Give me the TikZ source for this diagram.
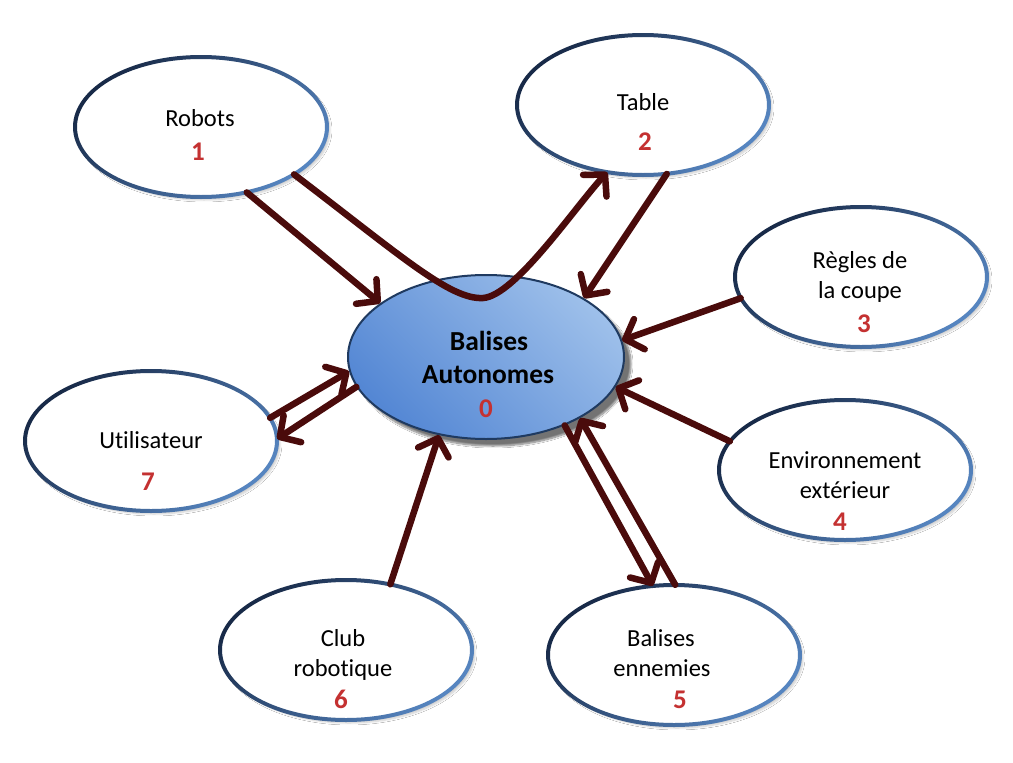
\documentclass[tikz,border=0pt]{standalone}
\usepackage{fontspec}
\setmainfont{Carlito}[Ligatures={NoCommon}]
\usetikzlibrary{shapes.geometric,arrows.meta,shadows.blur}
\definecolor{arr}{HTML}{4A0B0B}
\definecolor{numred}{HTML}{C43131}
\definecolor{edgeDark}{HTML}{182A48}
\definecolor{edgeLight}{HTML}{5685C0}
\definecolor{ctrDark}{HTML}{5487D4}
\definecolor{ctrLight}{HTML}{9DBFEA}
\definecolor{ctrEdge}{HTML}{1F3A60}
\newcommand\bubbleedge[1]{\shade[even odd rule, top color=edgeDark, bottom color=edgeLight, shading angle=45] (#1.center) ellipse [x radius=128, y radius=72] (#1.center) ellipse [x radius=124, y radius=68];}
\begin{document}
\begin{tikzpicture}[x=1pt,y=-1pt,
  bubble/.style={ellipse, minimum width=252pt, minimum height=140pt, inner sep=0pt, fill=white,
    blur shadow={shadow xshift=3pt, shadow yshift=-3pt, shadow opacity=20, shadow blur steps=6}},
  core/.style={ellipse, minimum width=276pt, minimum height=164pt, inner sep=0pt, draw=ctrEdge, line width=2pt,
    top color=ctrLight, bottom color=ctrDark, shading angle=-45,
    blur shadow={shadow xshift=7pt, shadow yshift=-7pt, shadow opacity=55, shadow blur steps=10}},
  lbl/.style={anchor=base, inner sep=0pt, font=\fontsize{24.5}{29}\selectfont},
  clbl/.style={anchor=base, inner sep=0pt, font=\fontsize{27.5}{33}\selectfont\bfseries},
  num/.style={anchor=base, inner sep=0pt, text=numred, font=\fontsize{27}{31}\selectfont\bfseries},
  link/.style={draw=arr, line width=6.5pt, line cap=round, -{Straight Barb[length=15pt,width=32pt,round]}}
]
\useasboundingbox[fill=white] (0,0) rectangle (1013,763);

\node[bubble] (n1) at (201,127) {};
\node[bubble] (n2) at (643,105) {};
\node[bubble] (n3) at (861,277) {};
\node[bubble] (n4) at (845,470) {};
\node[bubble] (n5) at (674,655) {};
\node[bubble] (n6) at (346,650) {};
\node[bubble] (n7) at (151,441) {};
\foreach \n in {n1,n2,n3,n4,n5,n6,n7} {\bubbleedge{\n}}
\node[core] (n0) at (486,357) {};

\coordinate (dip) at (483,298);
\draw[link] (n1.-55) -- (n0.153);
\draw[link] (n1.-27) .. controls (400,255) and (450,300) .. (dip) .. controls (515,296) and (575,207) .. (n2.-118);
\draw[link] (n2.-71) -- (n0.31);
\draw[link] (n3.190) -- (n0.7);
\draw[link] (n4.166) -- (n0.-13);
\draw[link] (n0.-41) -- (n5.107);
\draw[link] (n5.89) -- (n0.-33);
\draw[link] (n6.56) -- (n0.-121);
\draw[link] (n7.11) -- (n0.186);
\draw[link] (n0.193) -- (n7.1);

\node[lbl] (t1) at (200,126) {Robots};
\node[num] (d1) at (198,160) {1};
\node[lbl] (t2) at (643,110) {Table};
\node[num] (d2) at (645,150) {2};
\node[lbl] (t3a) at (860,268) {Règles de};
\node[lbl] (t3b) at (860,298) {la coupe};
\node[num] (d3) at (864,332) {3};
\node[lbl] (t4a) at (845,468) {Environnement};
\node[lbl] (t4b) at (845,498) {extérieur};
\node[num] (d4) at (840,530) {4};
\node[lbl] (t5a) at (661,646) {Balises};
\node[lbl] (t5b) at (662,676) {ennemies};
\node[num] (d5) at (680,708) {5};
\node[lbl] (t6a) at (343,646) {Club};
\node[lbl] (t6b) at (343,676) {robotique};
\node[num] (d6) at (341,708) {6};
\node[lbl] (t7) at (151,448) {Utilisateur};
\node[num] (d7) at (148,490) {7};
\node[clbl] (t0a) at (489,350) {Balises};
\node[clbl] (t0b) at (488,383) {Autonomes};
\node[num] (d0) at (486,417) {0};
\end{tikzpicture}
\end{document}
